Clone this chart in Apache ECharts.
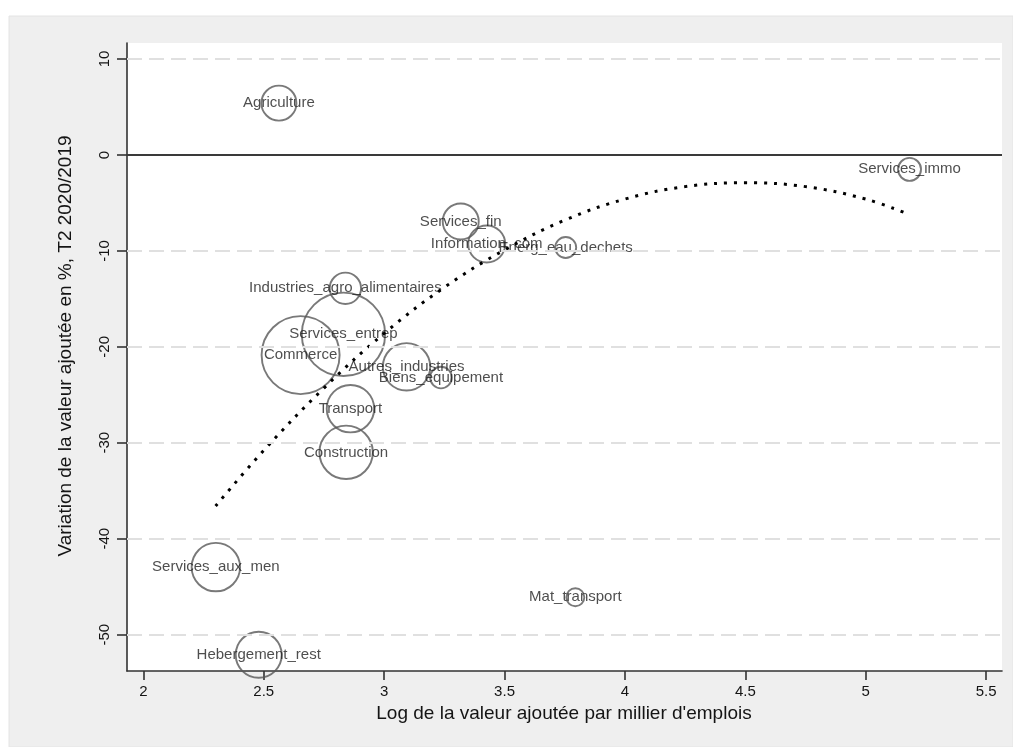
<!DOCTYPE html>
<html>
<head>
<meta charset="utf-8">
<script src="https://cdn.jsdelivr.net/npm/echarts@6/dist/echarts.min.js"></script>
<style>
html,body{margin:0;padding:0;background:#fff;}
#chart{width:1013px;height:747px;}
</style>
</head>
<body>
<div id="chart"></div>
<script>
// ---- data ----
const secteurs = ['Agriculture','Services_immo','Services_fin','Information_com','Energ_eau_dechets',
  'Industries_agro_alimentaires','Services_entrep','Commerce','Autres_industries','Biens_equipement',
  'Transport','Construction','Services_aux_men','Hebergement_rest','Mat_transport'];
const logVA = [2.563, 5.182, 3.318, 3.426, 3.754, 2.839, 2.831, 2.653, 3.093, 3.236, 2.860, 2.842, 2.301, 2.479, 3.794];
const variationVA = [5.4, -1.5, -6.93, -9.28, -9.65, -13.9, -18.7, -20.86, -22.08, -23.2, -26.45, -31.0, -42.96, -52.1, -46.1];
const poids = [306, 132, 324, 342, 110, 246, 1739, 1521, 562, 117, 562, 713, 586, 529, 81];

const fitX = [2.30, 2.50, 2.75, 3.00, 3.25, 3.50, 3.75, 4.00, 4.25, 4.50, 4.75, 5.00, 5.18];
const fitY = [-36.6, -30.8, -24.3, -18.6, -13.8, -9.9, -6.8, -4.6, -3.3, -2.9, -3.3, -4.6, -6.2];

const xTicks = [2, 2.5, 3, 3.5, 4, 4.5, 5, 5.5];
const yTicks = [10, 0, -10, -20, -30, -40, -50];
const yGrid = [10, -10, -20, -30, -40, -50];

const xTitle = "Log de la valeur ajoutée par millier d'emplois";
const yTitle = "Variation de la valeur ajoutée en %, T2 2020/2019";

// ---- chart ----
const FONT = '"Liberation Sans", Arial, Helvetica, sans-serif';
const chart = echarts.init(document.getElementById('chart'), null, {renderer: 'canvas'});

const bubbles = secteurs.map((s, i) => ({name: s, value: [logVA[i], variationVA[i], poids[i]]}));

const option = {
  animation: false,
  backgroundColor: '#fff',
  graphic: [
    {type: 'rect', z: -10, shape: {x: 9, y: 16, width: 1004, height: 731},
     style: {fill: '#efefef', stroke: '#e4e4e4', lineWidth: 1}},
    {type: 'text', z: 10, x: 66, y: 346, rotation: Math.PI / 2,
     style: {text: yTitle, font: '19px ' + FONT, fill: '#141414', align: 'center', verticalAlign: 'middle'}},
    {type: 'text', z: 10, x: 564, y: 714,
     style: {text: xTitle, font: '19px ' + FONT, fill: '#141414', align: 'center', verticalAlign: 'middle'}}
  ],
  grid: {left: 127, right: 11, top: 43, bottom: 76, show: true, backgroundColor: '#fff', borderWidth: 0, containLabel: false},
  xAxis: {
    type: 'value', min: 1.932, max: 5.566,
    axisLine: {show: true, onZero: false, lineStyle: {color: '#333', width: 1.6}},
    axisTick: {show: true, length: 9, customValues: xTicks, lineStyle: {color: '#333', width: 1.6}},
    axisLabel: {customValues: xTicks, margin: 13, fontSize: 15, fontFamily: FONT, color: '#141414'},
    splitLine: {show: false}
  },
  yAxis: {
    type: 'value', min: -53.79, max: 11.67,
    axisLine: {show: true, onZero: false, lineStyle: {color: '#333', width: 1.6}},
    axisTick: {show: true, length: 10, customValues: yTicks, lineStyle: {color: '#333', width: 1.6}},
    axisLabel: {customValues: yTicks, rotate: 90, margin: 15, fontSize: 15, fontFamily: FONT, color: '#141414'},
    splitLine: {show: false}
  },
  series: [
    {
      type: 'scatter',
      data: bubbles,
      symbol: 'circle',
      symbolSize: v => 2 * Math.sqrt(v[2]),
      itemStyle: {color: 'rgba(0,0,0,0)', borderColor: '#585858', borderWidth: 1.9},
      label: {show: true, position: 'inside', formatter: p => p.name, fontSize: 15, fontFamily: FONT, color: '#222'},
      markLine: {
        silent: true, symbol: 'none', label: {show: false}, animation: false,
        data: yGrid.map(v => ({yAxis: v, lineStyle: {color: '#e0e0e0', width: 2, type: [15, 7]}}))
          .concat([{yAxis: 0, lineStyle: {color: '#3a3a3a', width: 2, type: 'solid'}}])
      },
      z: 3
    },
    {
      type: 'line',
      data: fitX.map((x, i) => [x, fitY[i]]),
      smooth: 0.4,
      showSymbol: false,
      lineStyle: {color: '#000', width: 3, type: [3, 7], cap: 'butt'},
      z: 4
    }
  ]
};
chart.setOption(option);
</script>
</body>
</html>
